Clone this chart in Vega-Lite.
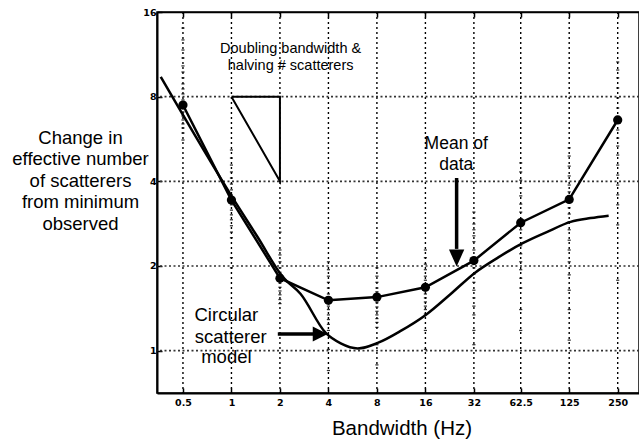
{
  "$schema": "https://vega.github.io/schema/vega-lite/v6.json",
  "width": 482,
  "height": 381,
  "autosize": {"type": "none"},
  "padding": {"left": 157, "top": 12, "right": 0, "bottom": 50},
  "background": "white",
  "config": {
    "view": {"stroke": "black", "strokeWidth": 1.5},
    "text": {"font": "Liberation Sans", "color": "black"}
  },
  "datasets": {
    "grid_bw": [
      {"bw": 0.5}, {"bw": 1}, {"bw": 2}, {"bw": 4}, {"bw": 8},
      {"bw": 16}, {"bw": 32}, {"bw": 62.5}, {"bw": 125}, {"bw": 250}
    ],
    "grid_n": [{"n": 1}, {"n": 2}, {"n": 4}, {"n": 8}],
    "observations": [
      {"bw": 0.5, "n": 14.03}, {"bw": 0.5, "n": 12.73}, {"bw": 0.5, "n": 11.72}, {"bw": 0.5, "n": 10.98},
      {"bw": 0.5, "n": 10.29}, {"bw": 0.5, "n": 9.79}, {"bw": 0.5, "n": 9.33}, {"bw": 0.5, "n": 8.88},
      {"bw": 0.5, "n": 8.52}, {"bw": 0.5, "n": 8.18}, {"bw": 0.5, "n": 7.79}, {"bw": 0.5, "n": 7.29},
      {"bw": 0.5, "n": 7.06}, {"bw": 0.5, "n": 6.83}, {"bw": 0.5, "n": 6.61}, {"bw": 0.5, "n": 6.4},
      {"bw": 0.5, "n": 6.19}, {"bw": 0.5, "n": 5.94}, {"bw": 0.5, "n": 5.61},
      {"bw": 1, "n": 5.17}, {"bw": 1, "n": 4.84}, {"bw": 1, "n": 4.57}, {"bw": 1, "n": 4.32},
      {"bw": 1, "n": 4.11}, {"bw": 1, "n": 3.91}, {"bw": 1, "n": 3.73}, {"bw": 1, "n": 3.58},
      {"bw": 1, "n": 3.3}, {"bw": 1, "n": 3.16}, {"bw": 1, "n": 3.04}, {"bw": 1, "n": 2.92},
      {"bw": 1, "n": 2.78}, {"bw": 1, "n": 2.64}, {"bw": 1, "n": 2.52}, {"bw": 1, "n": 2.14},
      {"bw": 1, "n": 1.97},
      {"bw": 2, "n": 2.64}, {"bw": 2, "n": 2.28}, {"bw": 2, "n": 2.19}, {"bw": 2, "n": 2.07},
      {"bw": 2, "n": 1.97}, {"bw": 2, "n": 1.9}, {"bw": 2, "n": 1.74}, {"bw": 2, "n": 1.68},
      {"bw": 2, "n": 1.63}, {"bw": 2, "n": 1.58}, {"bw": 2, "n": 1.52}, {"bw": 2, "n": 1.47},
      {"bw": 4, "n": 2.07}, {"bw": 4, "n": 1.94}, {"bw": 4, "n": 1.84}, {"bw": 4, "n": 1.75},
      {"bw": 4, "n": 1.67}, {"bw": 4, "n": 1.59}, {"bw": 4, "n": 1.44}, {"bw": 4, "n": 1.4},
      {"bw": 4, "n": 1.34}, {"bw": 4, "n": 1.29}, {"bw": 4, "n": 1.24}, {"bw": 4, "n": 1.18},
      {"bw": 4, "n": 1.01}, {"bw": 4, "n": 0.85},
      {"bw": 8, "n": 1.97}, {"bw": 8, "n": 1.84}, {"bw": 8, "n": 1.75}, {"bw": 8, "n": 1.67},
      {"bw": 8, "n": 1.62}, {"bw": 8, "n": 1.48}, {"bw": 8, "n": 1.43}, {"bw": 8, "n": 1.38},
      {"bw": 8, "n": 1.34}, {"bw": 8, "n": 1.3}, {"bw": 8, "n": 1.26}, {"bw": 8, "n": 1.21},
      {"bw": 8, "n": 1.05}, {"bw": 8, "n": 0.89},
      {"bw": 16, "n": 2.28}, {"bw": 16, "n": 2.14}, {"bw": 16, "n": 2.03}, {"bw": 16, "n": 1.94},
      {"bw": 16, "n": 1.84}, {"bw": 16, "n": 1.78}, {"bw": 16, "n": 1.59}, {"bw": 16, "n": 1.54},
      {"bw": 16, "n": 1.49}, {"bw": 16, "n": 1.44}, {"bw": 16, "n": 1.4}, {"bw": 16, "n": 1.35},
      {"bw": 16, "n": 1.18}, {"bw": 16, "n": 1.01},
      {"bw": 32, "n": 3.11}, {"bw": 32, "n": 2.96}, {"bw": 32, "n": 2.82}, {"bw": 32, "n": 2.69},
      {"bw": 32, "n": 2.56}, {"bw": 32, "n": 2.44}, {"bw": 32, "n": 2.28}, {"bw": 32, "n": 1.97},
      {"bw": 32, "n": 1.87}, {"bw": 32, "n": 1.75}, {"bw": 32, "n": 1.64}, {"bw": 32, "n": 1.54},
      {"bw": 32, "n": 1.44}, {"bw": 32, "n": 1.34}, {"bw": 32, "n": 1.18}, {"bw": 32, "n": 1.05},
      {"bw": 62.5, "n": 4.65}, {"bw": 62.5, "n": 4.32}, {"bw": 62.5, "n": 4.04}, {"bw": 62.5, "n": 3.79},
      {"bw": 62.5, "n": 3.55}, {"bw": 62.5, "n": 3.32}, {"bw": 62.5, "n": 3.11}, {"bw": 62.5, "n": 2.69},
      {"bw": 62.5, "n": 2.52}, {"bw": 62.5, "n": 2.36}, {"bw": 62.5, "n": 2.21}, {"bw": 62.5, "n": 2.07},
      {"bw": 62.5, "n": 1.94}, {"bw": 62.5, "n": 1.81}, {"bw": 62.5, "n": 1.67}, {"bw": 62.5, "n": 1.4},
      {"bw": 62.5, "n": 1.18},
      {"bw": 125, "n": 5.26}, {"bw": 125, "n": 4.92}, {"bw": 125, "n": 4.53}, {"bw": 125, "n": 4.18},
      {"bw": 125, "n": 3.88}, {"bw": 125, "n": 3.67}, {"bw": 125, "n": 3.22}, {"bw": 125, "n": 3.06},
      {"bw": 125, "n": 2.87}, {"bw": 125, "n": 2.69}, {"bw": 125, "n": 2.47}, {"bw": 125, "n": 2.28},
      {"bw": 125, "n": 2.07}, {"bw": 125, "n": 1.86}, {"bw": 125, "n": 1.64}, {"bw": 125, "n": 1.4},
      {"bw": 125, "n": 1.09},
      {"bw": 250, "n": 10.63}, {"bw": 250, "n": 9.95}, {"bw": 250, "n": 9.33}, {"bw": 250, "n": 8.59},
      {"bw": 250, "n": 7.92}, {"bw": 250, "n": 7.29}, {"bw": 250, "n": 6.09}, {"bw": 250, "n": 5.7},
      {"bw": 250, "n": 5.34}, {"bw": 250, "n": 4.96}, {"bw": 250, "n": 4.57}, {"bw": 250, "n": 4.21},
      {"bw": 250, "n": 3.88}, {"bw": 250, "n": 3.58}, {"bw": 250, "n": 3.3}, {"bw": 250, "n": 2.8},
      {"bw": 250, "n": 1.78}
    ],
    "mean": [
      {"bw": 0.5, "n": 7.47}, {"bw": 1, "n": 3.43}, {"bw": 2, "n": 1.81}, {"bw": 4, "n": 1.51},
      {"bw": 8, "n": 1.55}, {"bw": 16, "n": 1.68}, {"bw": 32, "n": 2.09}, {"bw": 62.5, "n": 2.85},
      {"bw": 125, "n": 3.45}, {"bw": 250, "n": 6.61}
    ],
    "model": [
      {"bw": 0.364, "n": 9.4}, {"bw": 1.0, "n": 3.55}, {"bw": 1.456, "n": 2.53}, {"bw": 2.08, "n": 1.83},
      {"bw": 2.69, "n": 1.59}, {"bw": 3.85, "n": 1.156}, {"bw": 4.77, "n": 1.061}, {"bw": 6.08, "n": 1.018},
      {"bw": 8.09, "n": 1.065}, {"bw": 11.24, "n": 1.175}, {"bw": 16.07, "n": 1.339}, {"bw": 22.97, "n": 1.59},
      {"bw": 32.4, "n": 1.89}, {"bw": 45.6, "n": 2.15}, {"bw": 64.3, "n": 2.41}, {"bw": 90.6, "n": 2.64},
      {"bw": 127.6, "n": 2.87}, {"bw": 169.9, "n": 2.96}, {"bw": 219.7, "n": 3.02}
    ],
    "slope_triangle": [
      {"step": 0, "bw": 1, "n": 8}, {"step": 1, "bw": 2, "n": 8},
      {"step": 2, "bw": 2, "n": 4}, {"step": 3, "bw": 1, "n": 8}
    ],
    "arrow_shafts": [
      {"bw": 25.0, "n": 4.11, "bw2": 25.0, "n2": 2.3},
      {"bw": 1.94, "n": 1.146, "bw2": 3.6, "n2": 1.146}
    ],
    "arrow_down_tip": [{"bw": 25.0, "n": 1.99}],
    "arrow_right_tip": [{"bw": 3.96, "n": 1.146}],
    "notes": [
      {"note": "slope", "text": "Doubling bandwidth &", "bw": 2.33, "n": 11.82},
      {"note": "slope", "text": "halving # scatterers", "bw": 2.33, "n": 10.29},
      {"note": "mean", "text": "Mean of", "bw": 24.85, "n": 5.43},
      {"note": "mean", "text": "data", "bw": 24.85, "n": 4.57},
      {"note": "model", "text": "Circular", "bw": 0.93, "n": 1.339},
      {"note": "model", "text": "scatterer", "bw": 0.99, "n": 1.121},
      {"note": "model", "text": "model", "bw": 0.93, "n": 0.952}
    ]
  },
  "resolve": {"axis": {"x": "independent", "y": "independent"}},
  "layer": [
    {
      "data": {"name": "grid_bw"},
      "mark": {"type": "rule", "color": "black", "strokeWidth": 1.4, "strokeDash": [2, 3], "opacity": 1},
      "encoding": {
        "x": {"field": "bw", "type": "quantitative", "scale": {"type": "log", "base": 2, "domain": [0.345, 339], "nice": false, "zero": false}, "axis": null}
      }
    },
    {
      "data": {"name": "grid_n"},
      "mark": {"type": "rule", "color": "#333333", "strokeWidth": 1.6, "strokeDash": [2, 2.5], "opacity": 1},
      "encoding": {
        "y": {"field": "n", "type": "quantitative", "scale": {"type": "log", "base": 2, "domain": [0.707, 16], "nice": false, "zero": false}, "axis": null}
      }
    },
    {
      "data": {"name": "observations"},
      "mark": {"type": "point", "filled": true, "shape": "M-1,-0.4L1,-0.4L1,0.4L-1,0.4Z", "size": 10, "color": "black", "opacity": 0.8},
      "encoding": {
        "x": {
          "field": "bw", "type": "quantitative",
          "scale": {"type": "log", "base": 2, "domain": [0.345, 339], "nice": false, "zero": false},
          "axis": {
            "orient": "top", "values": [0.5, 1, 2, 4, 8, 16, 32, 62.5, 125, 250],
            "labels": false, "grid": false, "title": null,
            "tickSize": -5, "tickWidth": 1.5, "tickColor": "black",
            "domainColor": "black", "domainWidth": 1.5
          }
        },
        "y": {
          "field": "n", "type": "quantitative",
          "scale": {"type": "log", "base": 2, "domain": [0.707, 16], "nice": false, "zero": false},
          "axis": {
            "orient": "left", "values": [1, 2, 4, 8, 16], "format": "~g",
            "grid": false,
            "tickSize": -5, "tickWidth": 1.5, "tickColor": "black",
            "domainColor": "black", "domainWidth": 2,
            "labelFont": "DejaVu Sans", "labelFontWeight": "bold", "labelFontSize": 9.5, "labelColor": "black",
            "labelPadding": 6, "labelAlign": "right", "labelBaseline": "middle",
            "labelFlush": false, "labelOverlap": false,
            "title": ["Change in", "effective number", "of scatterers", "from minimum", "observed"],
            "titleFont": "Liberation Sans", "titleFontSize": 18.5, "titleFontWeight": "normal", "titleColor": "black",
            "titleAngle": 0, "titleAlign": "center", "titleBaseline": "middle",
            "titleX": -77, "titleY": 125, "titleLineHeight": 21.6
          }
        }
      }
    },
    {
      "data": {"name": "model"},
      "mark": {"type": "line", "color": "black", "strokeWidth": 2.5, "interpolate": "monotone"},
      "encoding": {
        "x": {"field": "bw", "type": "quantitative", "scale": {"type": "log", "base": 2, "domain": [0.345, 339], "nice": false, "zero": false}, "axis": null},
        "y": {"field": "n", "type": "quantitative", "scale": {"type": "log", "base": 2, "domain": [0.707, 16], "nice": false, "zero": false}, "axis": null}
      }
    },
    {
      "data": {"name": "mean"},
      "mark": {"type": "line", "color": "black", "strokeWidth": 2.5, "point": {"filled": true, "size": 85, "color": "black"}},
      "encoding": {
        "x": {
          "field": "bw", "type": "quantitative",
          "scale": {"type": "log", "base": 2, "domain": [0.345, 339], "nice": false, "zero": false},
          "axis": {
            "orient": "bottom", "values": [0.5, 1, 2, 4, 8, 16, 32, 62.5, 125, 250], "format": "~g",
            "grid": false,
            "tickSize": -5, "tickWidth": 1.5, "tickColor": "black",
            "domainColor": "black", "domainWidth": 2,
            "labelFont": "DejaVu Sans", "labelFontWeight": "bold", "labelFontSize": 9.5, "labelColor": "black",
            "labelPadding": 14, "labelBaseline": "middle", "labelAlign": "center",
            "labelFlush": false, "labelOverlap": false,
            "title": "Bandwidth (Hz)",
            "titleFont": "Liberation Sans", "titleFontSize": 20.5, "titleFontWeight": "normal", "titleColor": "black",
            "titleAlign": "center", "titleBaseline": "middle", "titleX": 244.5, "titleY": 35
          }
        },
        "y": {"field": "n", "type": "quantitative", "scale": {"type": "log", "base": 2, "domain": [0.707, 16], "nice": false, "zero": false}, "axis": null}
      }
    },
    {
      "data": {"name": "slope_triangle"},
      "mark": {"type": "line", "color": "black", "strokeWidth": 2},
      "encoding": {
        "order": {"field": "step", "type": "quantitative"},
        "x": {"field": "bw", "type": "quantitative", "scale": {"type": "log", "base": 2, "domain": [0.345, 339], "nice": false, "zero": false}, "axis": null},
        "y": {"field": "n", "type": "quantitative", "scale": {"type": "log", "base": 2, "domain": [0.707, 16], "nice": false, "zero": false}, "axis": null}
      }
    },
    {
      "data": {"name": "arrow_shafts"},
      "mark": {"type": "rule", "color": "black", "strokeWidth": 3.5},
      "encoding": {
        "x": {"field": "bw", "type": "quantitative", "scale": {"type": "log", "base": 2, "domain": [0.345, 339], "nice": false, "zero": false}, "axis": null},
        "y": {"field": "n", "type": "quantitative", "scale": {"type": "log", "base": 2, "domain": [0.707, 16], "nice": false, "zero": false}, "axis": null},
        "x2": {"field": "bw2"},
        "y2": {"field": "n2"}
      }
    },
    {
      "data": {"name": "arrow_down_tip"},
      "mark": {"type": "point", "filled": true, "shape": "M0,0L-0.45,-1L0.45,-1Z", "size": 1156, "color": "black", "opacity": 1},
      "encoding": {
        "x": {"field": "bw", "type": "quantitative", "scale": {"type": "log", "base": 2, "domain": [0.345, 339], "nice": false, "zero": false}, "axis": null},
        "y": {"field": "n", "type": "quantitative", "scale": {"type": "log", "base": 2, "domain": [0.707, 16], "nice": false, "zero": false}, "axis": null}
      }
    },
    {
      "data": {"name": "arrow_right_tip"},
      "mark": {"type": "point", "filled": true, "shape": "M0,0L-1,-0.5L-1,0.5Z", "size": 900, "color": "black", "opacity": 1},
      "encoding": {
        "x": {"field": "bw", "type": "quantitative", "scale": {"type": "log", "base": 2, "domain": [0.345, 339], "nice": false, "zero": false}, "axis": null},
        "y": {"field": "n", "type": "quantitative", "scale": {"type": "log", "base": 2, "domain": [0.707, 16], "nice": false, "zero": false}, "axis": null}
      }
    },
    {
      "data": {"name": "notes"},
      "transform": [{"filter": "datum.note === 'slope'"}],
      "mark": {"type": "text", "fontSize": 14.5, "align": "center", "baseline": "middle"},
      "encoding": {
        "text": {"field": "text"},
        "x": {"field": "bw", "type": "quantitative", "scale": {"type": "log", "base": 2, "domain": [0.345, 339], "nice": false, "zero": false}, "axis": null},
        "y": {"field": "n", "type": "quantitative", "scale": {"type": "log", "base": 2, "domain": [0.707, 16], "nice": false, "zero": false}, "axis": null}
      }
    },
    {
      "data": {"name": "notes"},
      "transform": [{"filter": "datum.note === 'mean'"}],
      "mark": {"type": "text", "fontSize": 17.5, "align": "center", "baseline": "middle"},
      "encoding": {
        "text": {"field": "text"},
        "x": {"field": "bw", "type": "quantitative", "scale": {"type": "log", "base": 2, "domain": [0.345, 339], "nice": false, "zero": false}, "axis": null},
        "y": {"field": "n", "type": "quantitative", "scale": {"type": "log", "base": 2, "domain": [0.707, 16], "nice": false, "zero": false}, "axis": null}
      }
    },
    {
      "data": {"name": "notes"},
      "transform": [{"filter": "datum.note === 'model'"}],
      "mark": {"type": "text", "fontSize": 18.5, "align": "center", "baseline": "middle"},
      "encoding": {
        "text": {"field": "text"},
        "x": {"field": "bw", "type": "quantitative", "scale": {"type": "log", "base": 2, "domain": [0.345, 339], "nice": false, "zero": false}, "axis": null},
        "y": {"field": "n", "type": "quantitative", "scale": {"type": "log", "base": 2, "domain": [0.707, 16], "nice": false, "zero": false}, "axis": null}
      }
    }
  ]
}
